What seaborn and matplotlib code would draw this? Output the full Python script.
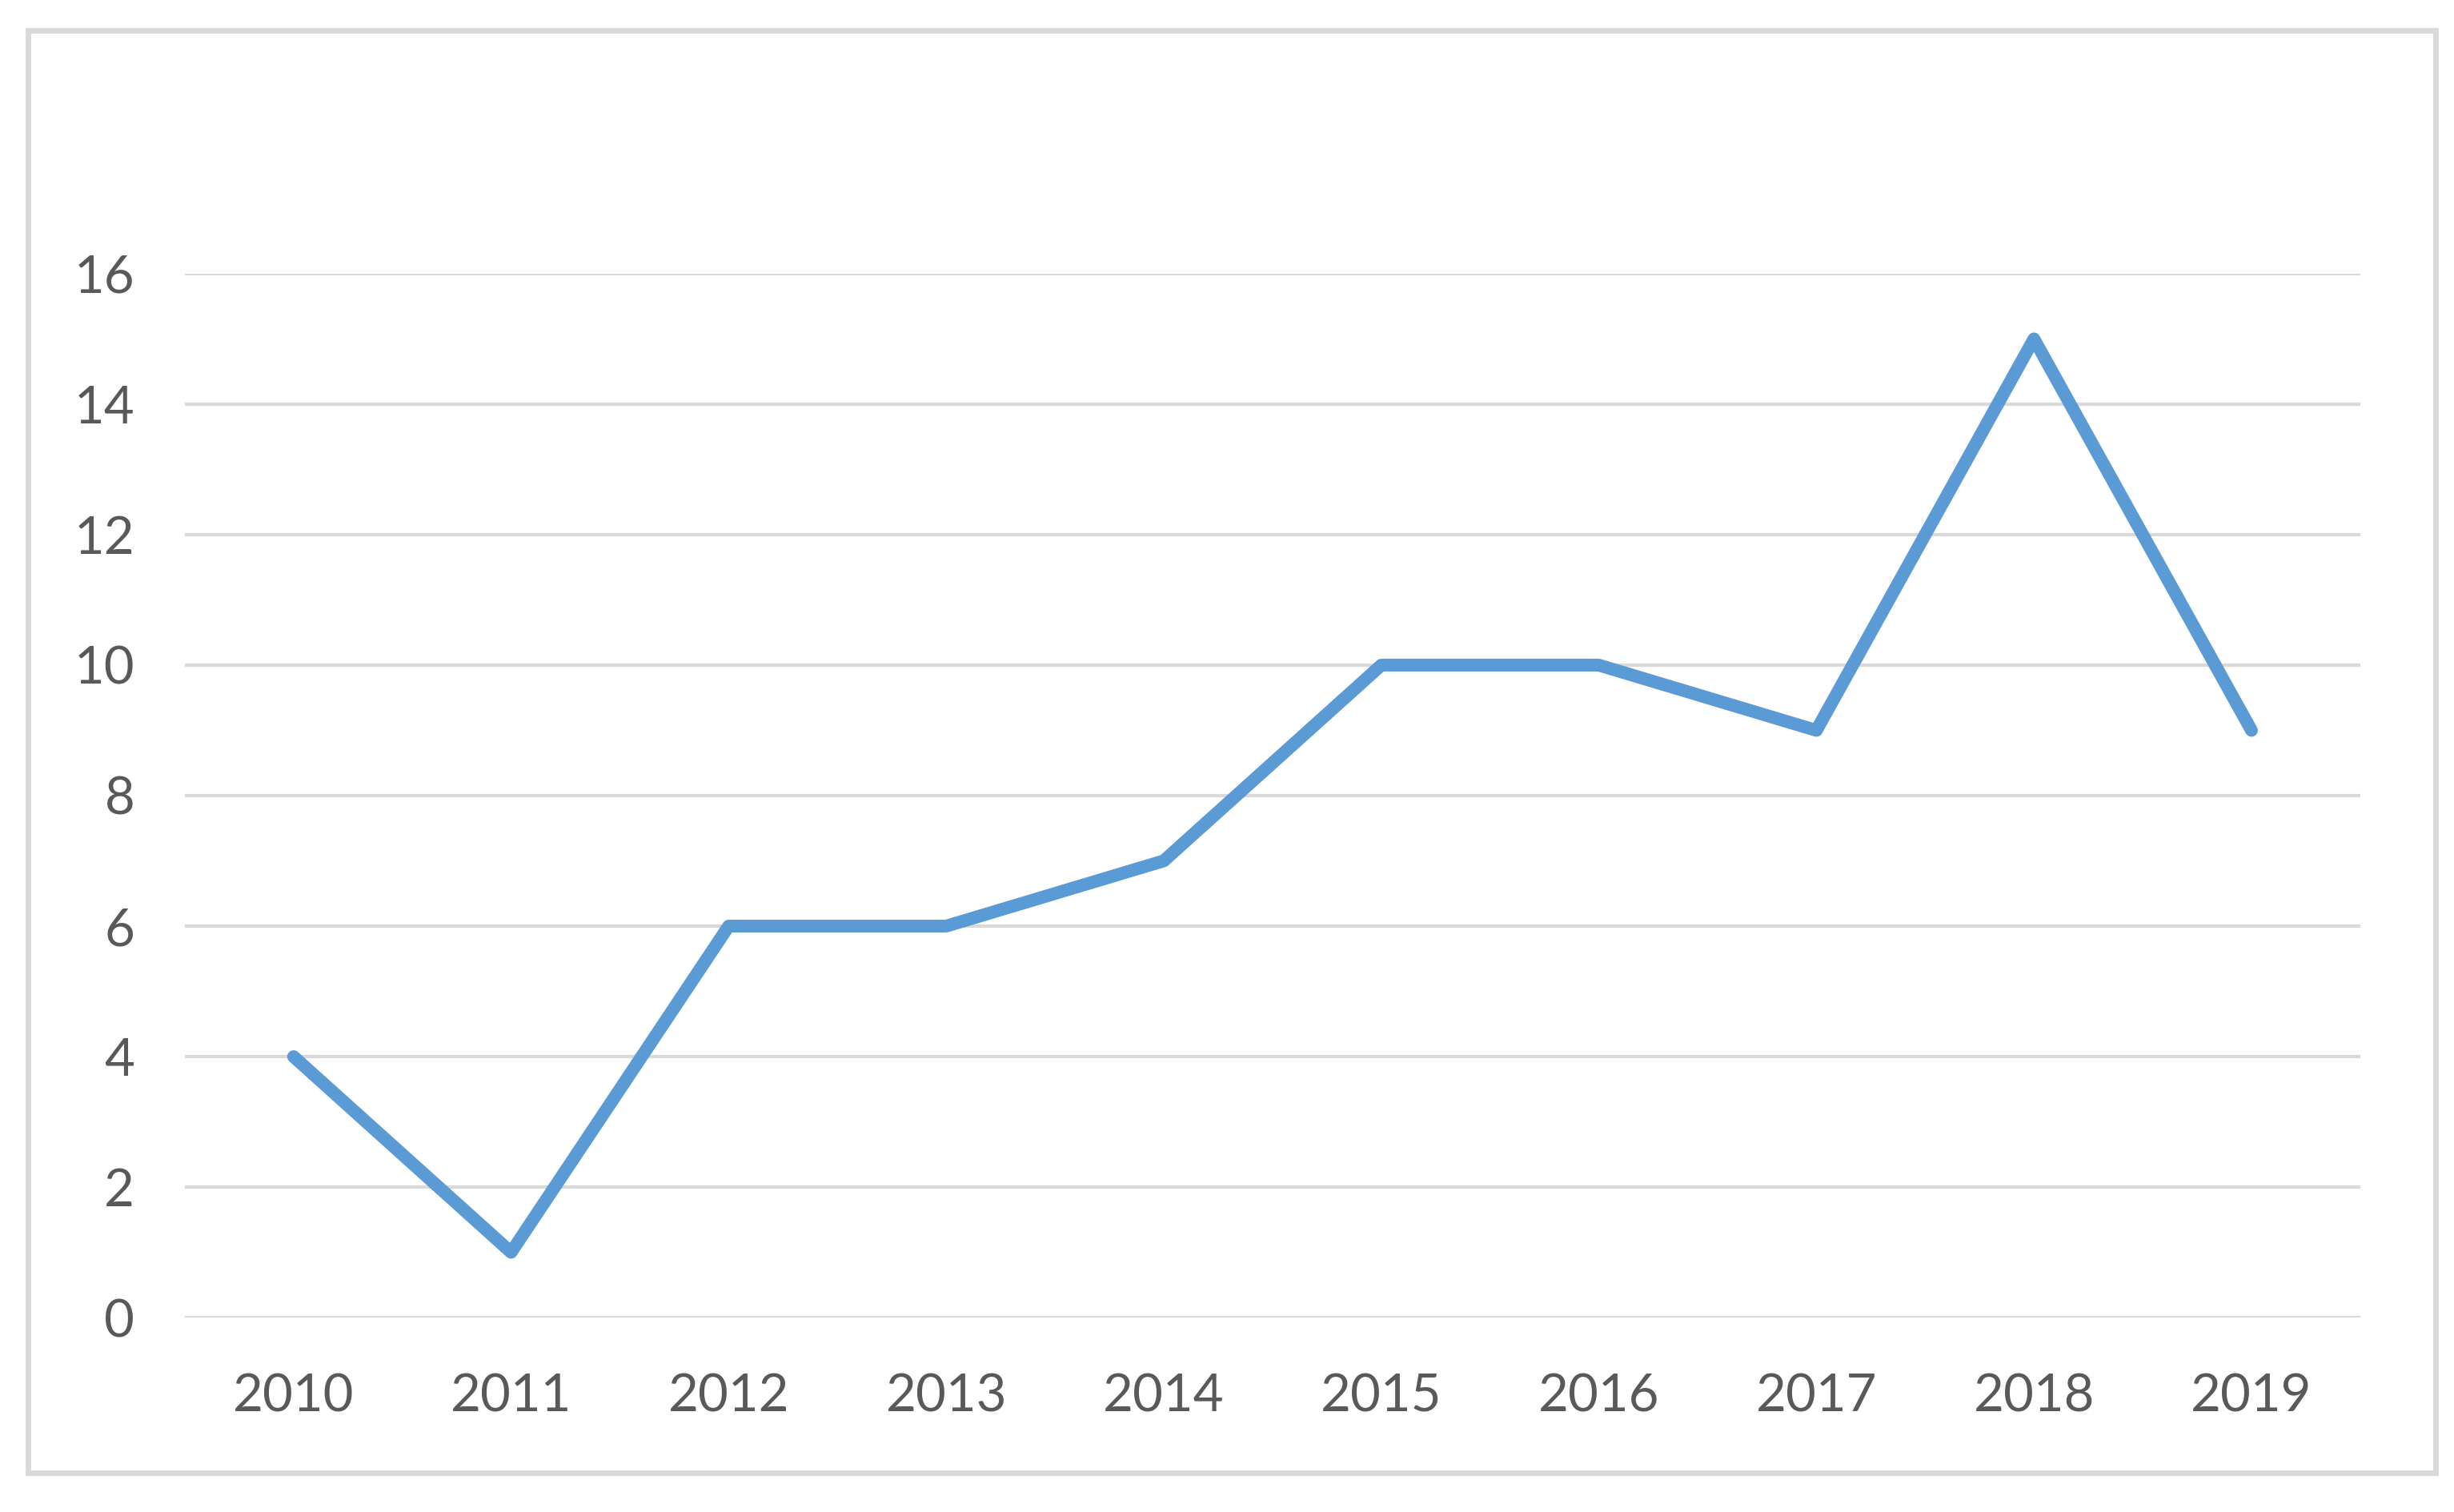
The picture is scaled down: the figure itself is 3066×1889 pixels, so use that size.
import pandas as pd
import matplotlib.pyplot as plt
import seaborn as sns
from matplotlib.patches import Rectangle

# data
years = ['2010', '2011', '2012', '2013', '2014', '2015', '2016', '2017', '2018', '2019']
counts = [4, 1, 6, 6, 7, 10, 10, 9, 15, 9]
y_ticks = [0, 2, 4, 6, 8, 10, 12, 14, 16]

line_color = '#5b9bd5'
grid_color = '#d9d9d9'
text_color = '#595959'

sns.set_theme(style='white')
plt.rcParams['font.family'] = ['Lato', 'DejaVu Sans']

df = pd.DataFrame({'year': years, 'count': counts})

fig = plt.figure(figsize=(30.66, 18.89), dpi=100)
ax = fig.add_axes([0.0753, 0.1286, 0.8865, 0.6904])

# chart frame around the whole figure, Excel style
fig.patches.append(Rectangle((0.0114, 0.0259), 0.9811, 0.954, transform=fig.transFigure,
                             fill=False, edgecolor=grid_color, linewidth=5, zorder=0))

for v in y_ticks:
    ax.axhline(v, color=grid_color, linewidth=3, zorder=1)

sns.lineplot(data=df, x='year', y='count', sort=False, color=line_color,
             linewidth=11.5, ax=ax, zorder=3,
             solid_capstyle='round', solid_joinstyle='round')

ax.set_xlim(-0.5, len(years) - 0.5)
ax.set_ylim(0, 16)
ax.set_yticks(y_ticks)
ax.set_yticklabels([str(v) for v in y_ticks])
ax.set_xlabel('')
ax.set_ylabel('')
ax.tick_params(axis='both', length=0, labelsize=47, labelcolor=text_color)
ax.tick_params(axis='x', pad=50)
ax.tick_params(axis='y', pad=45)
for s in ax.spines.values():
    s.set_visible(False)

fig.savefig('out.png', dpi=100)
